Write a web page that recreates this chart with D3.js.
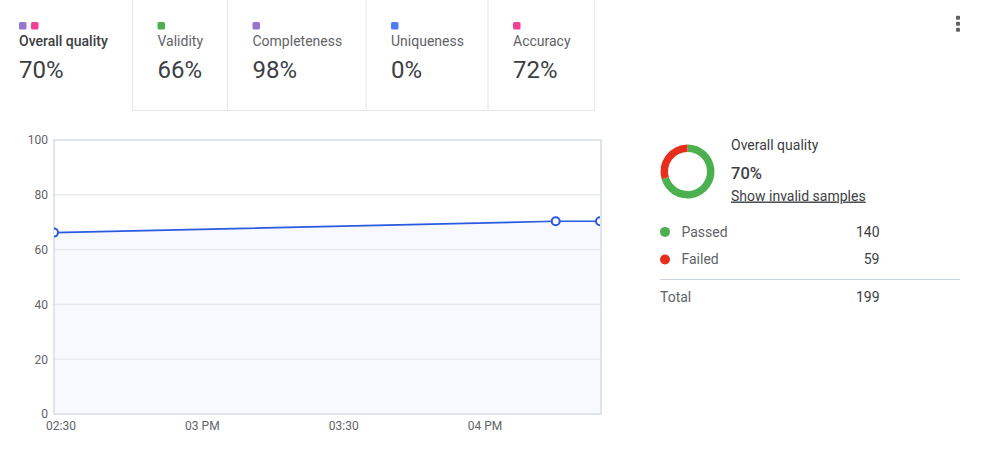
<!DOCTYPE html>
<html>
<head>
 <meta charset="utf-8">
 <script src="https://d3js.org/d3.v7.min.js"></script>
 <style>
  body { margin: 0; background: #fff; font-family: Roboto, "Noto Sans", sans-serif; }
 </style>
</head>
<body>
 <svg id="chart" width="981" height="450"></svg>
 <script>
   // tabs on top
   var tabNames = ["Overall quality", "Validity", "Completeness", "Uniqueness", "Accuracy"];
   var tabValues = [70, 66, 98, 0, 72];
   var tabColors = [["#9575cd", "#f23f98"], ["#4caf50"], ["#9575cd"], ["#4e7ef2"], ["#f23f98"]];
   // line chart
   var times = ["2024-01-01T14:28:37", "2024-01-01T16:15:06", "2024-01-01T16:24:30"];
   var quality = [66.2, 70.35, 70.35];
   var yTicks = [0, 20, 40, 60, 80, 100];
   // donut
   var sampleLabels = ["Passed", "Failed"];
   var sampleCounts = [140, 59];
   var sampleColors = ["#4caf50", "#e62e1b"];

   var svg = d3.select("#chart");

   // tab strip
   var tabEdges = [0, 132.5, 227.5, 366, 488, 594];
   var tabs = svg.append("g");
   tabs.append("path")
       .attr("d", "M132.5,0V110.5H594.5V0")
       .attr("fill", "none").attr("stroke", "#e6e6e6");
   [227.5, 366, 488].forEach(function(x) {
     tabs.append("line").attr("x1", x).attr("x2", x).attr("y1", 0).attr("y2", 110)
         .attr("stroke", "#e6e6e6");
   });
   tabNames.forEach(function(name, i) {
     var x0 = i == 0 ? 19 : tabEdges[i] + 25;
     var g = tabs.append("g").attr("transform", "translate(" + x0 + ",0)");
     tabColors[i].forEach(function(c, j) {
       g.append("rect").attr("x", j * 12).attr("y", 22).attr("width", 7.5).attr("height", 7.5)
        .attr("rx", 1.5).attr("fill", c);
     });
     g.append("text").attr("y", 45.5).attr("font-size", 14)
      .attr("font-weight", i == 0 ? 500 : 400)
      .attr("fill", i == 0 ? "#3c4043" : "#5f6368")
      .text(name);
     g.append("text").attr("y", 77.5).attr("font-size", 24).attr("fill", "#3c4043")
      .text(tabValues[i] + "%");
   });

   // menu dots
   [17.7, 23.7, 29.7].forEach(function(y) {
     svg.append("rect").attr("x", 956).attr("y", y - 2).attr("width", 4).attr("height", 4)
        .attr("rx", 1).attr("fill", "#5f6368");
   });

   // line chart
   var parse = d3.isoParse;
   var data = times.map(function(t, i) { return {t: parse(t), v: quality[i]}; });
   var pLeft = 54, pRight = 600, pTop = 140, pBottom = 414;
   var x = d3.scaleTime().domain(d3.extent(data, function(d) { return d.t; })).range([pLeft, pRight]);
   var y = d3.scaleLinear().domain([0, 100]).range([pBottom, pTop]);

   svg.append("clipPath").attr("id", "plotclip").append("rect")
      .attr("x", pLeft).attr("y", pTop - 5).attr("width", pRight - pLeft).attr("height", pBottom - pTop + 5);

   var plot = svg.append("g");
   var area = d3.area().x(function(d) { return x(d.t); }).y0(y(0)).y1(function(d) { return y(d.v); });
   plot.append("path").datum(data).attr("d", area).attr("fill", "#f7f9fe");
   plot.selectAll(".grid").data(yTicks.slice(1, -1)).enter().append("line")
       .attr("x1", pLeft).attr("x2", pRight + 1)
       .attr("y1", function(d) { return y(d); }).attr("y2", function(d) { return y(d); })
       .attr("stroke", "#e4e8ec").attr("stroke-width", 1.2);
   plot.append("rect").attr("x", pLeft).attr("y", pTop).attr("width", pRight - pLeft + 1)
       .attr("height", pBottom - pTop).attr("fill", "none").attr("stroke", "#d6dde3").attr("stroke-width", 1.5);

   var yAxis = d3.axisLeft(y).tickValues(yTicks).tickSize(0).tickPadding(6);
   plot.append("g").attr("transform", "translate(" + pLeft + ",0)").call(yAxis)
       .call(function(g) { g.select(".domain").remove(); })
       .selectAll("text").attr("font-family", "Roboto").attr("font-size", 12).attr("fill", "#5f6368");

   var fmt = function(d) {
     return d.getMinutes() == 0 ? d3.timeFormat("%I %p")(d) : d3.timeFormat("%I:%M")(d);
   };
   var xAxis = d3.axisBottom(x).ticks(d3.timeMinute.every(30)).tickFormat(fmt).tickSize(0).tickPadding(7);
   plot.append("g").attr("transform", "translate(0," + pBottom + ")").call(xAxis)
       .call(function(g) { g.select(".domain").remove(); })
       .selectAll("text").attr("font-family", "Roboto").attr("font-size", 12).attr("fill", "#5f6368");

   var marks = plot.append("g").attr("clip-path", "url(#plotclip)");
   var line = d3.line().x(function(d) { return x(d.t); }).y(function(d) { return y(d.v); });
   marks.append("path").datum(data).attr("d", line).attr("fill", "none")
       .attr("stroke", "#2a5ae0").attr("stroke-width", 1.7);
   marks.selectAll(".pt").data(data).enter().append("circle")
       .attr("cx", function(d) { return x(d.t); }).attr("cy", function(d) { return y(d.v); })
       .attr("r", 4).attr("fill", "#fff").attr("stroke", "#2a5ae0").attr("stroke-width", 2);

   // donut + summary
   var side = svg.append("g");
   var pie = d3.pie().sort(null);
   var arc = d3.arc().innerRadius(19.5).outerRadius(27);
   side.append("g").attr("transform", "translate(687.5,171.5)")
       .selectAll("path").data(pie(sampleCounts)).enter().append("path")
       .attr("d", arc).attr("fill", function(d, i) { return sampleColors[i]; });
   var total = d3.sum(sampleCounts);
   side.append("text").attr("x", 731).attr("y", 149.5).attr("font-size", 14).attr("fill", "#3c4043")
       .text("Overall quality");
   side.append("text").attr("x", 731).attr("y", 179).attr("font-size", 16.5).attr("font-weight", 500)
       .attr("fill", "#3c4043").text(Math.round(sampleCounts[0] / total * 100) + "%");
   side.append("text").attr("x", 731).attr("y", 200.5).attr("font-size", 14).attr("fill", "#3c4043")
       .attr("text-decoration", "underline").text("Show invalid samples");

   sampleLabels.forEach(function(lab, i) {
     var yy = 236.7 + i * 27.6;
     side.append("circle").attr("cx", 665).attr("cy", yy - 4.8).attr("r", 5).attr("fill", sampleColors[i]);
     side.append("text").attr("x", 681.5).attr("y", yy).attr("font-size", 14).attr("fill", "#5f6368").text(lab);
     side.append("text").attr("x", 879.5).attr("y", yy).attr("font-size", 14).attr("fill", "#3c4043")
         .attr("text-anchor", "end").text(sampleCounts[i]);
   });
   side.append("line").attr("x1", 660).attr("x2", 960).attr("y1", 279.5).attr("y2", 279.5)
       .attr("stroke", "#c9d2db");
   side.append("text").attr("x", 660).attr("y", 301.5).attr("font-size", 14).attr("fill", "#5f6368").text("Total");
   side.append("text").attr("x", 879.5).attr("y", 301.5).attr("font-size", 14).attr("fill", "#3c4043")
       .attr("text-anchor", "end").text(total);
 </script>
</body>
</html>
